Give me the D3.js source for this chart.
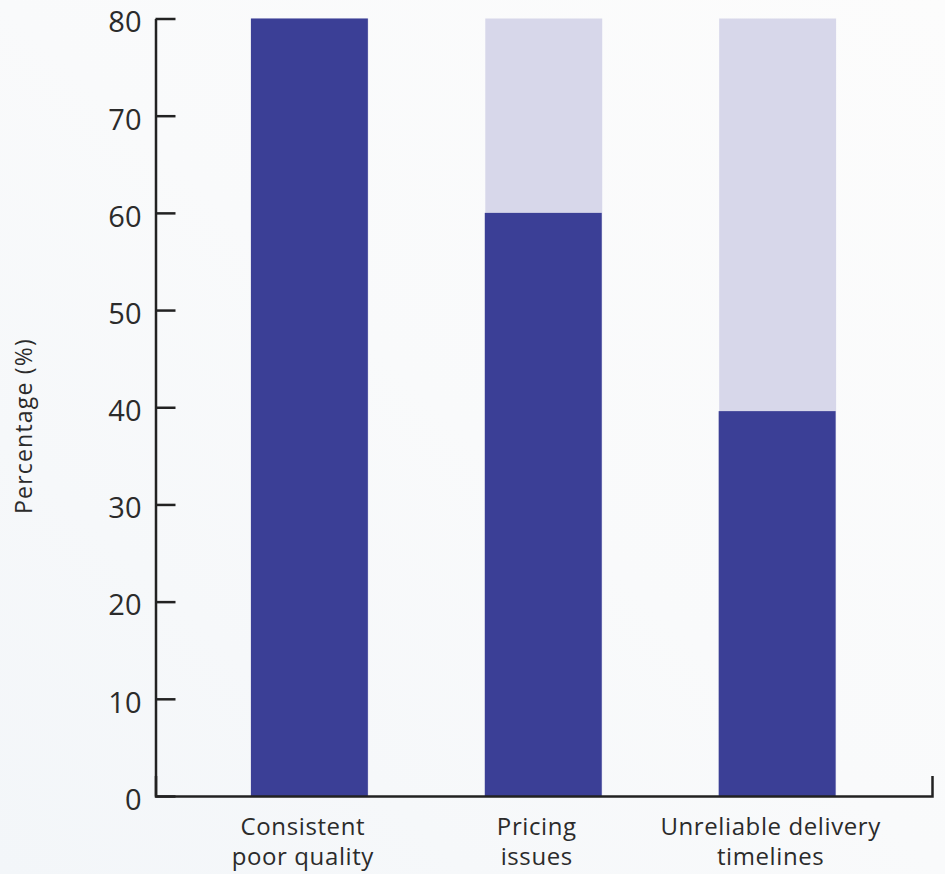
<!DOCTYPE html>
<html>
<head>
<meta charset="utf-8">
<script src="https://cdn.jsdelivr.net/npm/d3@7"></script>
<style>
  html, body { margin: 0; padding: 0; }
  body { width: 945px; height: 874px; overflow: hidden; }
  text { font-family: "Open Sans", Lato, sans-serif; fill: #2b2b2b; }
</style>
</head>
<body>
<svg id="chart" width="945" height="874"></svg>
<script>
// Problem categories and share of respondents
const categories = [
  ["Consistent", "poor quality"],
  ["Pricing", "issues"],
  ["Unreliable delivery", "timelines"]
];
const values = [80, 60, 39.6];
const totals = [80, 80, 80];
const yTicks = [0, 10, 20, 30, 40, 50, 60, 70, 80];
const yLabel = "Percentage (%)";

const W = 945, H = 874;
const plotLeft = 155.5, plotRight = 932, plotTop = 18.5, plotBottom = 796;

const svg = d3.select("#chart");

// soft background wash
const defs = svg.append("defs");
const grad = defs.append("linearGradient")
  .attr("id", "bg").attr("x1", "1").attr("y1", "0").attr("x2", "0").attr("y2", "1");
grad.append("stop").attr("offset", "0").attr("stop-color", "#fcfcfc");
grad.append("stop").attr("offset", "0.5").attr("stop-color", "#f9fafb");
grad.append("stop").attr("offset", "1").attr("stop-color", "#f3f6f9");
svg.append("rect").attr("width", W).attr("height", H).attr("fill", "url(#bg)");

const x = d3.scaleBand()
  .domain(d3.range(categories.length))
  .range([plotLeft, plotRight])
  .paddingInner(0.5)
  .paddingOuter(0.41);

const y = d3.scaleLinear().domain([0, 80]).range([plotBottom, plotTop]);

// full-height backdrop bars
svg.append("g").selectAll("rect")
  .data(totals)
  .join("rect")
  .attr("x", (d, i) => x(i))
  .attr("width", x.bandwidth())
  .attr("y", d => y(d))
  .attr("height", d => y(0) - y(d))
  .attr("fill", "#d7d7ea");

// value bars
svg.append("g").selectAll("rect")
  .data(values)
  .join("rect")
  .attr("x", (d, i) => x(i) - 0.5)
  .attr("width", x.bandwidth())
  .attr("y", d => y(d))
  .attr("height", d => y(0) - y(d))
  .attr("fill", "#3b3f96");

// y axis, ticks pointing inward
const yAxis = d3.axisRight(y).tickValues(yTicks).tickSize(20).tickPadding(0).tickSizeOuter(0);
const gy = svg.append("g").attr("transform", `translate(${plotLeft},0)`).call(yAxis);
gy.select(".domain").attr("stroke", "#222").attr("stroke-width", 2.5);
gy.selectAll(".tick line").attr("stroke", "#222").attr("stroke-width", 2.5);
gy.selectAll(".tick text")
  .attr("x", -14)
  .attr("dy", "0.46em")
  .attr("text-anchor", "end")
  .attr("font-size", 29)
  .attr("fill", "#2b2b2b")
  .attr("font-family", "\"Open Sans\", sans-serif");

// x axis with upward end ticks
const xAxis = d3.axisBottom(x).tickSize(0).tickSizeOuter(-20).tickFormat("");
const gx = svg.append("g").attr("transform", `translate(0,${plotBottom})`).call(xAxis);
gx.select(".domain").attr("stroke", "#222").attr("stroke-width", 2.5).attr("fill", "none");

// category labels, set slightly left of each bar's centre
const lab = svg.append("g").selectAll("text")
  .data(categories)
  .join("text")
  .attr("text-anchor", "middle")
  .attr("font-size", 24)
  .attr("letter-spacing", 0.6)
  .attr("fill", "#2b2b2b")
  .attr("transform", (d, i) => `translate(${x(i) + x.bandwidth() / 2 - 7},835)`);
lab.selectAll("tspan")
  .data(d => d)
  .join("tspan")
  .attr("x", 0)
  .attr("dy", (d, j) => j === 0 ? 0 : 30)
  .text(d => d);

// y axis title
svg.append("text")
  .attr("transform", "translate(32,426) rotate(-90)")
  .attr("text-anchor", "middle")
  .attr("font-size", 23)
  .attr("letter-spacing", 1.2)
  .attr("fill", "#2b2b2b")
  .text(yLabel);
</script>
</body>
</html>
